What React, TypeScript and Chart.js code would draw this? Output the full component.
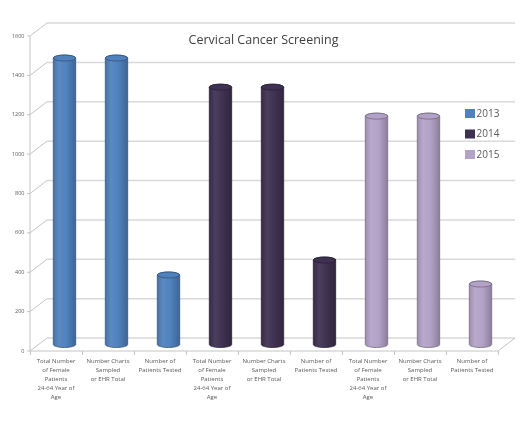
import React, { useEffect, useRef } from "react";
import { Chart, registerables } from "chart.js";

Chart.register(...registerables);

// ---- data ----
const CHART_TITLE = "Cervical Cancer Screening";
const LABEL_TOTAL = ["Total Number", "of Female", "Patients", "24-64 Year of", "Age"];
const LABEL_SAMPLED = ["Number Charts", "Sampled", "or EHR Total"];
const LABEL_TESTED = ["Number of", "Patients Tested"];

const categories = [
  LABEL_TOTAL, LABEL_SAMPLED, LABEL_TESTED,
  LABEL_TOTAL, LABEL_SAMPLED, LABEL_TESTED,
  LABEL_TOTAL, LABEL_SAMPLED, LABEL_TESTED,
];
const years = ["2013", "2014", "2015"];
const values2013 = [1455, 1455, 353];
const values2014 = [1307, 1307, 429];
const values2015 = [1160, 1160, 307];
const yearColors = ["#4F81BD", "#3F3151", "#B3A2C7"];
const Y_MAX = 1600;
const Y_STEP = 200;

// ---- styling ----
const FONT = "'Open Sans', 'DejaVu Sans', sans-serif";
const TEXT_COLOR = "#595959";
const GRID_COLOR = "#d9d9d9";
const AXIS_COLOR = "#c4c4c4";
// half of the floor depth: offset from the bar plane to the front / back wall
const DEPTH_X = 8.5;
const DEPTH_Y = 6.5;
const CAP_RY = 3;

function hexToRgb(hex: string) {
  const n = parseInt(hex.slice(1), 16);
  return [(n >> 16) & 255, (n >> 8) & 255, n & 255];
}
function mix(hex: string, target: string, t: number) {
  const a = hexToRgb(hex);
  const b = hexToRgb(target);
  const c = a.map((v, i) => Math.round(v + (b[i] - v) * t));
  return `rgb(${c[0]},${c[1]},${c[2]})`;
}

const seriesValues = [values2013, values2014, values2015];
const groupSize = values2013.length;

// 3-D floor, walls, grid and tick marks
const wallPlugin = {
  id: "wall3d",
  beforeDatasetsDraw(chart: any) {
    const { ctx, chartArea, scales } = chart;
    const y = scales.y;
    const fl = chartArea.left - DEPTH_X;
    const fr = chartArea.right - DEPTH_X;
    const bl = chartArea.left + DEPTH_X;
    const br = chartArea.right + DEPTH_X;
    ctx.save();
    // back wall gridlines
    ctx.strokeStyle = GRID_COLOR;
    ctx.lineWidth = 1.5;
    for (let v = 0; v <= Y_MAX; v += Y_STEP) {
      const yb = y.getPixelForValue(v) - DEPTH_Y;
      ctx.beginPath();
      ctx.moveTo(bl, yb);
      ctx.lineTo(br, yb);
      ctx.stroke();
    }
    // side wall diagonals and left axis
    ctx.strokeStyle = AXIS_COLOR;
    ctx.lineWidth = 1;
    for (let v = 0; v <= Y_MAX; v += Y_STEP) {
      const ym = y.getPixelForValue(v);
      ctx.beginPath();
      ctx.moveTo(fl - 3, ym + DEPTH_Y);
      ctx.lineTo(fl, ym + DEPTH_Y);
      ctx.lineTo(bl, ym - DEPTH_Y);
      ctx.stroke();
    }
    const yTop = y.getPixelForValue(Y_MAX) + DEPTH_Y;
    const y0 = y.getPixelForValue(0);
    ctx.beginPath();
    ctx.moveTo(fl, yTop);
    ctx.lineTo(fl, y0 + DEPTH_Y);
    ctx.lineTo(fr, y0 + DEPTH_Y);
    ctx.lineTo(br, y0 - DEPTH_Y);
    ctx.stroke();
    // category separators on the front floor edge
    const n = chart.data.labels.length;
    const cw = (chartArea.right - chartArea.left) / n;
    for (let k = 0; k <= n; k++) {
      const xx = Math.round(fl + k * cw) + 0.5;
      ctx.beginPath();
      ctx.moveTo(xx, y0 + DEPTH_Y);
      ctx.lineTo(xx, y0 + DEPTH_Y + 4);
      ctx.stroke();
    }
    ctx.restore();
  },
};

// cylinder-shaped columns
const cylinderPlugin = {
  id: "cylinders",
  beforeDatasetDraw(chart: any, args: any) {
    const { ctx } = chart;
    const meta = args.meta;
    const base = yearColors[args.index];
    const values = chart.data.datasets[args.index].data;
    meta.data.forEach((bar: any, i: number) => {
      if (values[i] == null) return;
      const { x, y, base: yb, width } = bar.getProps(["x", "y", "base", "width"], true);
      const rx = width / 2;
      const left = x - rx;
      const right = x + rx;
      const g = ctx.createLinearGradient(left, 0, right, 0);
      g.addColorStop(0, mix(base, "#000000", 0.12));
      g.addColorStop(0.25, mix(base, "#ffffff", 0.07));
      g.addColorStop(0.6, base);
      g.addColorStop(1, mix(base, "#000000", 0.22));
      ctx.save();
      ctx.beginPath();
      ctx.moveTo(left, y);
      ctx.lineTo(left, yb);
      ctx.ellipse(x, yb, rx, CAP_RY, 0, Math.PI, 0, true);
      ctx.lineTo(right, y);
      ctx.ellipse(x, y, rx, CAP_RY, 0, 0, Math.PI, true);
      ctx.closePath();
      ctx.fillStyle = g;
      ctx.fill();
      ctx.lineWidth = 0.8;
      ctx.strokeStyle = mix(base, "#000000", 0.35);
      ctx.stroke();
      // top cap
      ctx.beginPath();
      ctx.ellipse(x, y, rx, CAP_RY, 0, 0, Math.PI * 2);
      ctx.fillStyle = base;
      ctx.fill();
      ctx.stroke();
      ctx.restore();
    });
    return false;
  },
};

// title and legend drawn over the plot
const overlayPlugin = {
  id: "overlay",
  afterDraw(chart: any) {
    const { ctx, chartArea } = chart;
    ctx.save();
    ctx.fillStyle = "#404040";
    ctx.font = `12.5px ${FONT}`;
    ctx.textAlign = "center";
    ctx.textBaseline = "middle";
    ctx.fillText(CHART_TITLE, (chartArea.left + chartArea.right) / 2 - 9, chartArea.top + 11);

    ctx.textAlign = "left";
    ctx.font = `10px ${FONT}`;
    chart.data.datasets.forEach((ds: any, i: number) => {
      const bx = chartArea.right - 41.5;
      const by = chartArea.top + 79.5 + i * 20.5;
      ctx.fillStyle = ds.backgroundColor;
      ctx.fillRect(bx, by, 10, 9);
      ctx.fillStyle = TEXT_COLOR;
      ctx.fillText(ds.label, bx + 11.5, by + 5);
    });
    ctx.restore();
  },
};

export default function App() {
  const ref = useRef<HTMLCanvasElement | null>(null);

  useEffect(() => {
    if (!ref.current) return;
    const datasets = years.map((yr, i) => ({
      label: yr,
      data: categories.map((_, k) =>
        Math.floor(k / groupSize) === i ? seriesValues[i][k % groupSize] : null
      ),
      backgroundColor: yearColors[i],
      grouped: false,
      barPercentage: 0.43,
      categoryPercentage: 1,
    }));
    const chart = new Chart(ref.current, {
      type: "bar",
      data: { labels: categories as any, datasets },
      options: {
        responsive: false,
        animation: false,
        devicePixelRatio: 1,
        layout: { padding: { top: 29.5, right: 16.5, bottom: 18.5, left: 0 } },
        plugins: {
          legend: { display: false },
          title: { display: false },
          tooltip: { enabled: false },
        },
        scales: {
          x: {
            grid: { display: false, drawTicks: false },
            border: { display: false },
            ticks: {
              autoSkip: false,
              maxRotation: 0,
              labelOffset: -DEPTH_X,
              padding: 12,
              color: TEXT_COLOR,
              font: { family: FONT, size: 6, lineHeight: 1.5 },
            },
            afterFit: (s: any) => {
              s.height = 60;
            },
          },
          y: {
            min: 0,
            max: Y_MAX,
            grid: { display: false, drawTicks: false },
            border: { display: false },
            ticks: {
              stepSize: Y_STEP,
              labelOffset: DEPTH_Y,
              padding: 14,
              color: TEXT_COLOR,
              font: { family: FONT, size: 5.5 },
              callback: (v: any) => String(v),
            },
            afterFit: (s: any) => {
              s.width = 38.5;
            },
          },
        },
      },
      plugins: [wallPlugin, cylinderPlugin, overlayPlugin],
    });
    return () => chart.destroy();
  }, []);

  return (
    <div style={{ position: "fixed", left: 0, top: 0, width: 523, height: 423, background: "#fff" }}>
      <canvas ref={ref} width={523} height={423} style={{ display: "block" }} />
    </div>
  );
}
